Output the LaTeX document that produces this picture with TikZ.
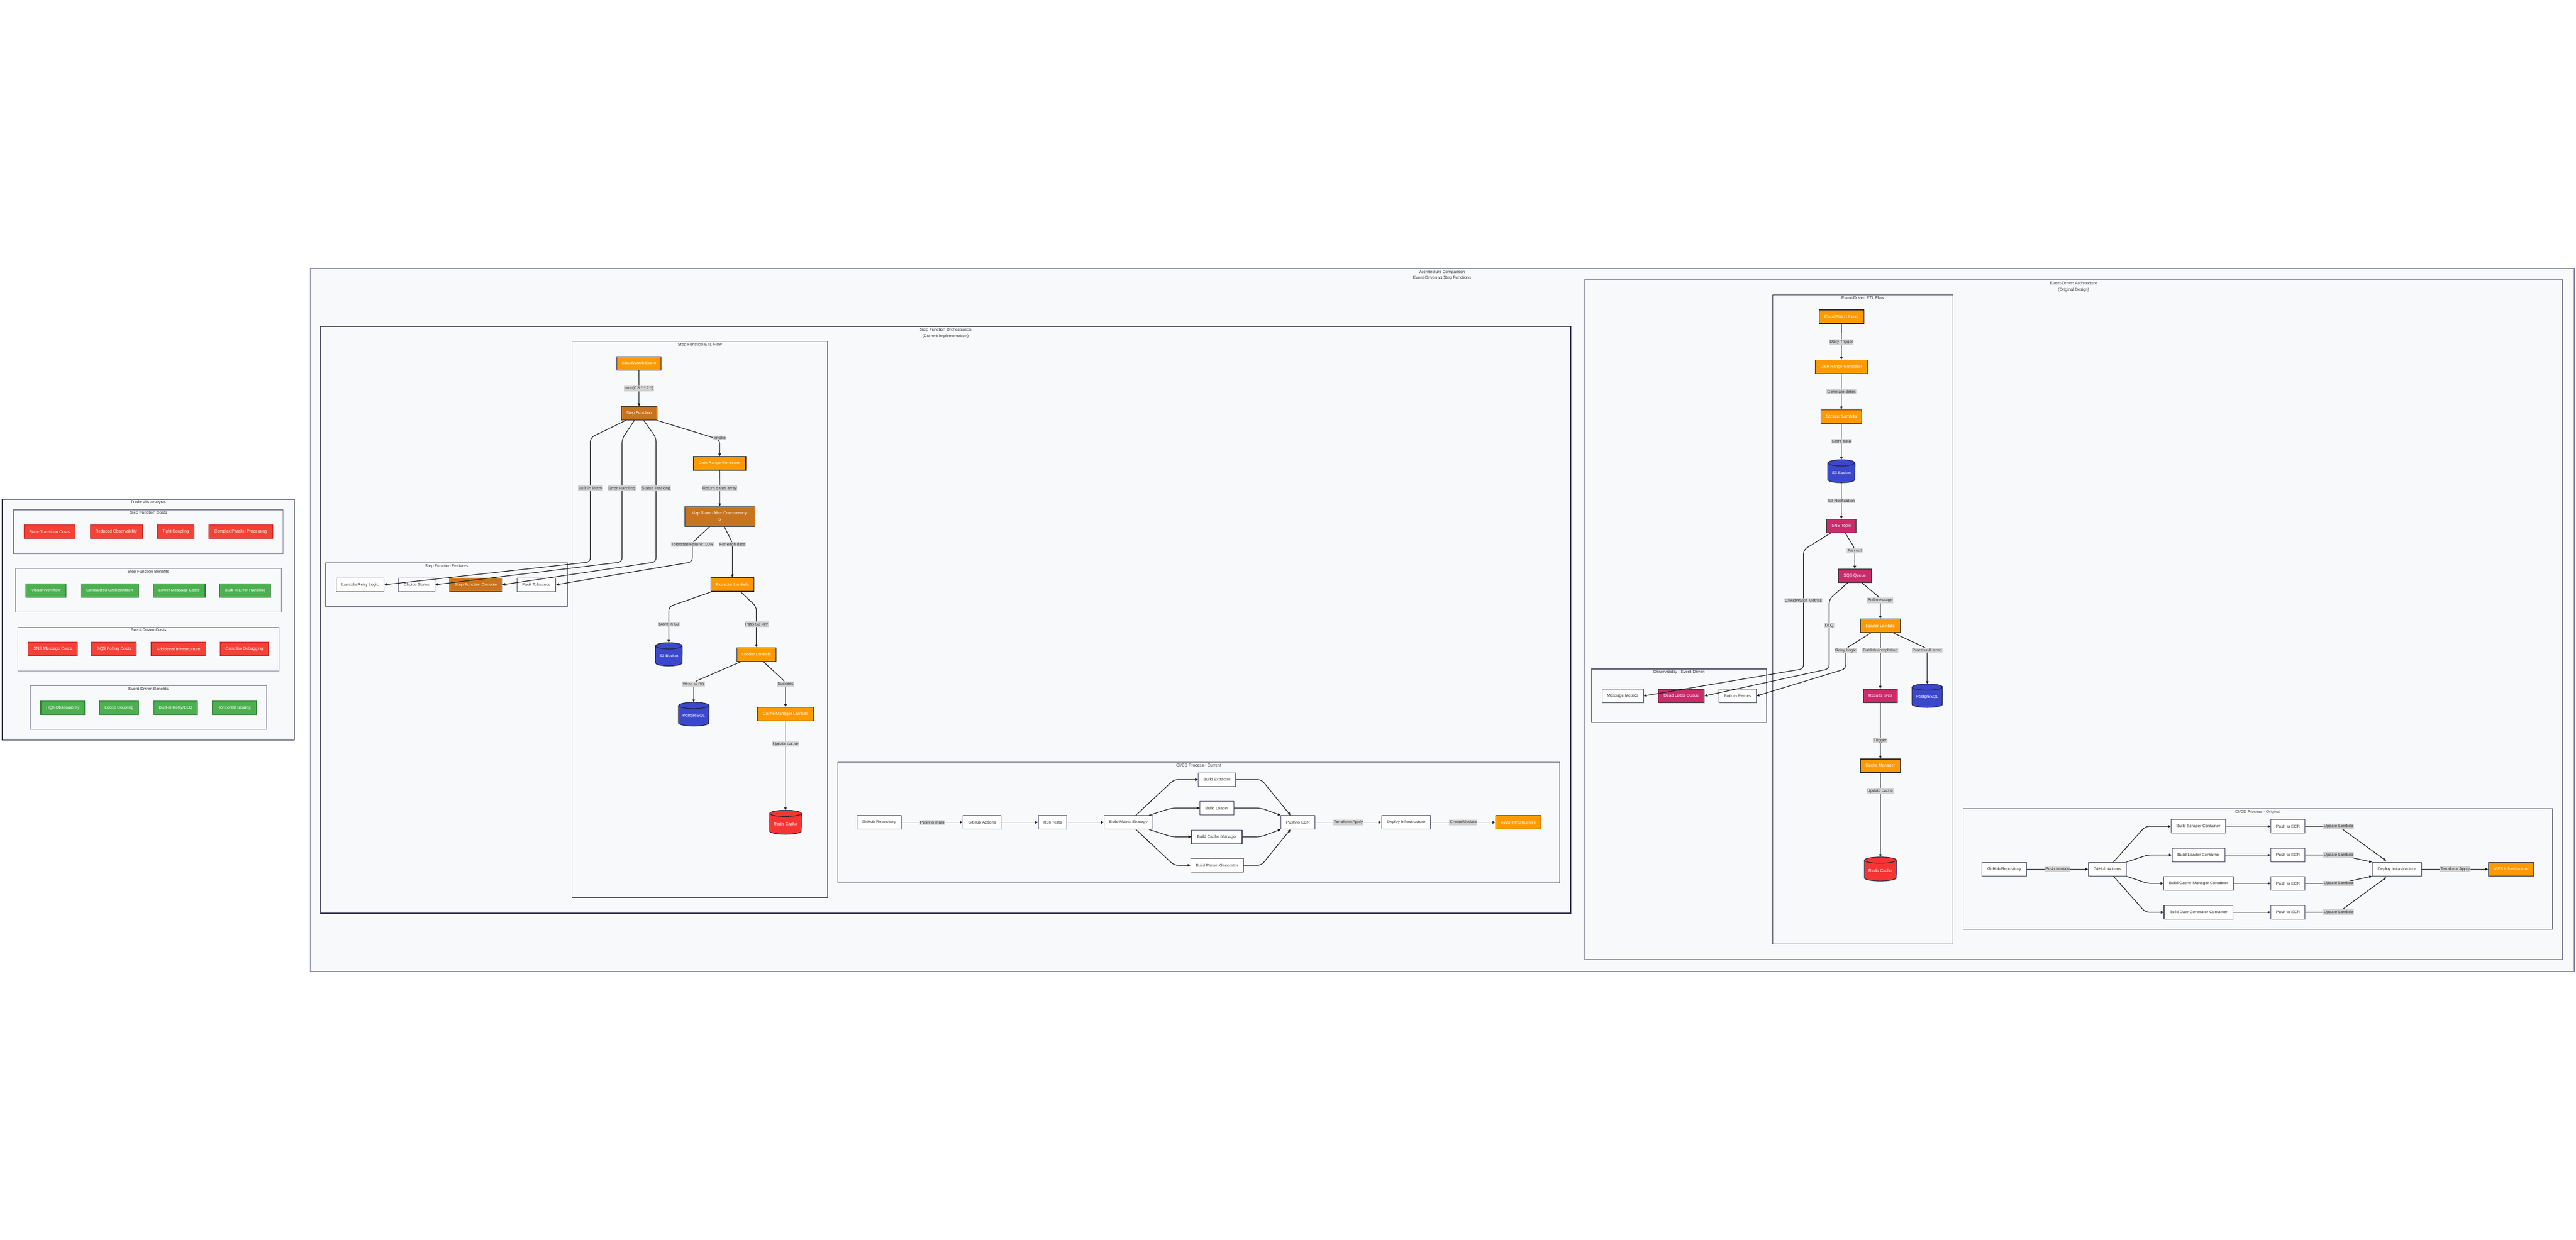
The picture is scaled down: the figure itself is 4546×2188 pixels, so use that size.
\documentclass[tikz,border=0pt]{standalone}
\usepackage{fontspec}
\setmainfont{Liberation Sans}
\usetikzlibrary{arrows.meta,calc,shadows}
\definecolor{awsorange}{HTML}{FF9900}
\definecolor{sfbrown}{HTML}{C8741E}
\definecolor{snsmag}{HTML}{CC2A6A}
\definecolor{s3blue}{HTML}{3B48CC}
\definecolor{redisred}{HTML}{F53434}
\definecolor{costred}{HTML}{F44336}
\definecolor{costline}{HTML}{C62828}
\definecolor{benegreen}{HTML}{4CAF50}
\definecolor{beneline}{HTML}{2E7D32}
\definecolor{darkline}{HTML}{333333}
\definecolor{cylline}{HTML}{22223A}
\definecolor{wline}{HTML}{55556A}
\definecolor{txtc}{HTML}{333333}
\definecolor{lblgray}{HTML}{D2D2D2}
\definecolor{edgec}{HTML}{1E1E1E}
\definecolor{grpfill}{HTML}{F8F9FB}
\definecolor{darkgrp}{HTML}{35354D}
\definecolor{midgrp}{HTML}{5E5E70}
\definecolor{lightgrp}{HTML}{85859A}
\newcommand\dfont{\fontsize{7.3pt}{8.8pt}\selectfont}
\tikzset{
 grp/.style={fill=grpfill, line width=1.3pt},
 ttl/.style={font=\dfont, text=txtc, inner sep=0pt},
 nd/.style={rectangle, line width=1.1pt, inner sep=0pt, font=\dfont, minimum height=24pt, drop shadow={opacity=0.18, shadow xshift=1.3pt, shadow yshift=-1.3pt}},
 wbox/.style={nd, fill=white, draw=wline, text=txtc},
 obox/.style={nd, fill=awsorange, draw=darkline, text=white},
 bbox/.style={nd, fill=sfbrown, draw=darkline, text=white},
 mbox/.style={nd, fill=snsmag, draw=darkline, text=white},
 rbox/.style={nd, fill=costred, draw=costline, text=white},
 gbox/.style={nd, fill=benegreen, draw=beneline, text=white},
 cylname/.style={rectangle, inner sep=0pt},
 cylbody/.style={draw=cylline, line width=1.1pt},
 cylshadow/.style={fill=black, opacity=0.15},
 cyltext/.style={text=white, font=\dfont, inner sep=0pt},
 lbl/.style={fill=lblgray, text=txtc, font=\dfont, inner xsep=1.2pt, inner ysep=1.5pt},
 edge/.style={draw=edgec, line width=1.15pt, rounded corners=7pt, -{Triangle[length=5pt,width=4.6pt]}}
}
\begin{document}
\begin{tikzpicture}[x=1pt,y=-1pt]
\fill[white] (0,0) rectangle (4546,2188);
\useasboundingbox (0,0) rectangle (4546,2188);

% ---------------- Trade-offs Analysis ----------------
\draw[grp, draw=darkgrp] (3.9,881.7) rectangle (519.5,1306.7);
\node[ttl] at (261.7,886.5) {Trade-offs Analysis};
\draw[grp, draw=lightgrp] (24.1,900) rectangle (499.6,977.3);
\node[ttl] at (261.9,905.5) {Step Function Costs};
\node[rbox, minimum width=90.3pt] (stc) at (87.6,938.7) {State Transition Costs};
\node[rbox, minimum width=91.9pt] (ro) at (205,938.7) {Reduced Observability};
\node[rbox, minimum width=65.4pt] (tc) at (310.1,938.7) {Tight Coupling};
\node[rbox, minimum width=112.8pt] (cpp) at (424.9,938.7) {Complex Parallel Processing};
\draw[grp, draw=lightgrp] (27.2,1003.7) rectangle (496.5,1080.7);
\node[ttl] at (261.9,1009.3) {Step Function Benefits};
\node[gbox, minimum width=70.4pt] (vw) at (81.1,1042.2) {Visual Workflow};
\node[gbox, minimum width=102pt] (co) at (193.4,1042.2) {Centralized Orchestration};
\node[gbox, minimum width=91.5pt] (lmc) at (316.2,1042.2) {Lower Message Costs};
\node[gbox, minimum width=90.3pt] (beh) at (432.7,1042.2) {Built-in Error Handling};
\draw[grp, draw=lightgrp] (31.5,1107.3) rectangle (492.6,1184.3);
\node[ttl] at (262,1112.3) {Event-Driven Costs};
\node[rbox, minimum width=86.4pt] (smc) at (93,1145.5) {SNS Message Costs};
\node[rbox, minimum width=78.6pt] (sqpc) at (201.2,1145.5) {SQS Polling Costs};
\node[rbox, minimum width=96.1pt] (ai) at (315,1145.5) {Additional Infrastructure};
\node[rbox, minimum width=85.2pt] (cd) at (431.3,1145.5) {Complex Debugging};
\draw[grp, draw=lightgrp] (53.3,1210.7) rectangle (470.8,1287.7);
\node[ttl] at (262,1216.3) {Event-Driven Benefits};
\node[gbox, minimum width=77.8pt] (ho) at (110.9,1249.5) {High Observability};
\node[gbox, minimum width=68.8pt] (lc) at (210.3,1249.5) {Loose Coupling};
\node[gbox, minimum width=77.4pt] (brd) at (309.9,1249.5) {Built-in Retry/DLQ};
\node[gbox, minimum width=77.8pt] (hs) at (413.2,1249.5) {Horizontal Scaling};

% ---------------- Architecture Comparison ----------------
\draw[grp, draw=lightgrp] (547.5,474.5) rectangle (4543,1715);
\node[ttl] at (2545,480.3) {Architecture Comparison};
\node[ttl] at (2545,491) {Event-Driven vs Step Functions};

\draw[grp, draw=darkgrp] (565.4,576.3) rectangle (2772,1612);
\node[ttl] at (1668.7,582.7) {Step Function Orchestration};
\node[ttl] at (1668.7,593.3) {(Current Implementation)};

\draw[grp, draw=darkgrp] (1009.3,602.7) rectangle (1460.7,1584.8);
\node[ttl] at (1235,608.3) {Step Function ETL Flow};

\draw[grp, draw=midgrp] (575,993.3) rectangle (1001,1070);
\node[ttl] at (788,999.3) {Step Function Features};

\draw[grp, draw=midgrp] (1478.4,1345.3) rectangle (2752.6,1558.3);
\node[ttl] at (2115.5,1351.3) {CI/CD Process - Current};

\draw[grp, draw=lightgrp] (2797,493.7) rectangle (4522,1693.5);
\node[ttl] at (3659.5,499.7) {Event-Driven Architecture};
\node[ttl] at (3659.5,511.3) {(Original Design)};

\draw[grp, draw=darkgrp] (3128.3,520.7) rectangle (3446.3,1666.7);
\node[ttl] at (3287.3,526) {Event-Driven ETL Flow};

\draw[grp, draw=midgrp] (2808.3,1181) rectangle (3117.7,1275.7);
\node[ttl] at (2963,1186.3) {Observability - Event-Driven};

\draw[grp, draw=midgrp] (3464.3,1427.7) rectangle (4504.4,1640.7);
\node[ttl] at (3984.4,1433.3) {CI/CD Process - Original};

% ---------------- SF ETL nodes ----------------
\node[obox, minimum width=78.4pt] (cw1) at (1127.5,641.3) {CloudWatch Event};
\node[bbox, minimum width=63.3pt] (sf1) at (1127.7,729.7) {Step Function};
\node[obox, minimum width=92pt] (drg1) at (1270,818) {Date Range Generator};
\node[bbox, minimum width=123.7pt, minimum height=35.3pt, align=center, font=\fontsize{7.3pt}{10.7pt}\selectfont] (map1) at (1270.2,911.7) {Map State - Max Concurrency:\\5};
\node[obox, minimum width=75.6pt] (ext1) at (1292.5,1032) {Extractor Lambda};
\node[obox, minimum width=69pt] (ldr1) at (1334.8,1155.2) {Loader Lambda};
\node[obox, minimum width=99pt] (cm1) at (1386.2,1260.5) {Cache Manager Lambda};

% cylinders (SF)
\node[cylname, minimum width=47pt, minimum height=40.6pt] (s3a) at (1180.2,1155) {};
\path[cylshadow] ($(s3a.north west)+(1.3,6.8)$) -- ($(s3a.south west)+(1.3,-4.2)$) arc[start angle=180,end angle=360,x radius=23.5pt,y radius=5.5pt] -- ($(s3a.north east)+(1.3,6.8)$) arc[start angle=0,end angle=180,x radius=23.5pt,y radius=5.5pt] -- cycle;
\path[cylbody, fill=s3blue] ($(s3a.north west)+(0,5.5)$) -- ($(s3a.south west)+(0,-5.5)$) arc[start angle=180,end angle=360,x radius=23.5pt,y radius=5.5pt] -- ($(s3a.north east)+(0,5.5)$) arc[start angle=0,end angle=180,x radius=23.5pt,y radius=5.5pt] -- cycle;
\draw[cylbody] ($(s3a.north west)+(0,5.5)$) arc[start angle=180,end angle=360,x radius=23.5pt,y radius=5.5pt];
\node[cyltext] at ($(s3a.center)+(0,3)$) {S3 Bucket};

\node[cylname, minimum width=53.7pt, minimum height=41.3pt] (pg1) at (1224.2,1260.7) {};
\path[cylshadow] ($(pg1.north west)+(1.3,6.8)$) -- ($(pg1.south west)+(1.3,-4.2)$) arc[start angle=180,end angle=360,x radius=26.85pt,y radius=5.5pt] -- ($(pg1.north east)+(1.3,6.8)$) arc[start angle=0,end angle=180,x radius=26.85pt,y radius=5.5pt] -- cycle;
\path[cylbody, fill=s3blue] ($(pg1.north west)+(0,5.5)$) -- ($(pg1.south west)+(0,-5.5)$) arc[start angle=180,end angle=360,x radius=26.85pt,y radius=5.5pt] -- ($(pg1.north east)+(0,5.5)$) arc[start angle=0,end angle=180,x radius=26.85pt,y radius=5.5pt] -- cycle;
\draw[cylbody] ($(pg1.north west)+(0,5.5)$) arc[start angle=180,end angle=360,x radius=26.85pt,y radius=5.5pt];
\node[cyltext] at ($(pg1.center)+(0,3)$) {PostgreSQL};

\node[cylname, minimum width=55.7pt, minimum height=42pt] (redis1) at (1386.2,1451.5) {};
\path[cylshadow] ($(redis1.north west)+(1.3,6.8)$) -- ($(redis1.south west)+(1.3,-4.2)$) arc[start angle=180,end angle=360,x radius=27.85pt,y radius=5.5pt] -- ($(redis1.north east)+(1.3,6.8)$) arc[start angle=0,end angle=180,x radius=27.85pt,y radius=5.5pt] -- cycle;
\path[cylbody, fill=redisred] ($(redis1.north west)+(0,5.5)$) -- ($(redis1.south west)+(0,-5.5)$) arc[start angle=180,end angle=360,x radius=27.85pt,y radius=5.5pt] -- ($(redis1.north east)+(0,5.5)$) arc[start angle=0,end angle=180,x radius=27.85pt,y radius=5.5pt] -- cycle;
\draw[cylbody] ($(redis1.north west)+(0,5.5)$) arc[start angle=180,end angle=360,x radius=27.85pt,y radius=5.5pt];
\node[cyltext] at ($(redis1.center)+(0,3)$) {Redis Cache};

% Features
\node[wbox, minimum width=84.4pt] (lrl) at (635.5,1032.2) {Lambda Retry Logic};
\node[wbox, minimum width=64pt] (cs) at (735.3,1032.2) {Choice States};
\node[bbox, minimum width=92.3pt] (sfc) at (839.9,1032.2) {Step Function Console};
\node[wbox, minimum width=68.4pt] (ft) at (946.5,1032.2) {Fault Tolerance};

% CI/CD current
\node[wbox, minimum width=78.3pt] (ghr1) at (1551.3,1451.7) {GitHub Repository};
\node[wbox, minimum width=67.3pt] (gha1) at (1733,1451.7) {GitHub Actions};
\node[wbox, minimum width=50.1pt] (rt) at (1857.5,1451.7) {Run Tests};
\node[wbox, minimum width=85.5pt] (bms) at (1991.3,1451.7) {Build Matrix Strategy};
\node[wbox, minimum width=66pt] (bext) at (2147.7,1376.2) {Build Extractor};
\node[wbox, minimum width=59.4pt] (bld) at (2147.5,1426.5) {Build Loader};
\node[wbox, minimum width=89pt] (bcm) at (2147.5,1477.2) {Build Cache Manager};
\node[wbox, minimum width=92.8pt] (bpg) at (2147.7,1527.5) {Build Param Generator};
\node[wbox, minimum width=60.2pt] (ecr1) at (2290.6,1451.7) {Push to ECR};
\node[wbox, minimum width=86.8pt] (dep1) at (2481.6,1451.7) {Deploy Infrastructure};
\node[obox, minimum width=80.2pt] (aws1) at (2679.6,1451.7) {AWS Infrastructure};

% ---------------- ED ETL nodes ----------------
\node[obox, minimum width=78.7pt] (cw2) at (3249.7,559) {CloudWatch Event};
\node[obox, minimum width=92.4pt] (drg2) at (3249.5,647.3) {Date Range Generator};
\node[obox, minimum width=72.4pt] (scr) at (3249.5,735.2) {Scraper Lambda};
\node[mbox, minimum width=52.4pt] (sns) at (3249.5,928.2) {SNS Topic};
\node[mbox, minimum width=57.7pt] (sqs) at (3273.2,1016.2) {SQS Queue};
\node[obox, minimum width=69.7pt] (ldr2) at (3318.2,1104.7) {Loader Lambda};
\node[mbox, minimum width=59.7pt] (rsns) at (3318.2,1228.2) {Results SNS};
\node[obox, minimum width=70.7pt] (cm2) at (3318.3,1352) {Cache Manager};

\node[cylname, minimum width=47.6pt, minimum height=40pt] (s3b) at (3249.5,831.8) {};
\path[cylshadow] ($(s3b.north west)+(1.3,6.8)$) -- ($(s3b.south west)+(1.3,-4.2)$) arc[start angle=180,end angle=360,x radius=23.8pt,y radius=5.5pt] -- ($(s3b.north east)+(1.3,6.8)$) arc[start angle=0,end angle=180,x radius=23.8pt,y radius=5.5pt] -- cycle;
\path[cylbody, fill=s3blue] ($(s3b.north west)+(0,5.5)$) -- ($(s3b.south west)+(0,-5.5)$) arc[start angle=180,end angle=360,x radius=23.8pt,y radius=5.5pt] -- ($(s3b.north east)+(0,5.5)$) arc[start angle=0,end angle=180,x radius=23.8pt,y radius=5.5pt] -- cycle;
\draw[cylbody] ($(s3b.north west)+(0,5.5)$) arc[start angle=180,end angle=360,x radius=23.8pt,y radius=5.5pt];
\node[cyltext] at ($(s3b.center)+(0,3)$) {S3 Bucket};

\node[cylname, minimum width=53.4pt, minimum height=41pt] (pg2) at (3401,1228) {};
\path[cylshadow] ($(pg2.north west)+(1.3,6.8)$) -- ($(pg2.south west)+(1.3,-4.2)$) arc[start angle=180,end angle=360,x radius=26.7pt,y radius=5.5pt] -- ($(pg2.north east)+(1.3,6.8)$) arc[start angle=0,end angle=180,x radius=26.7pt,y radius=5.5pt] -- cycle;
\path[cylbody, fill=s3blue] ($(pg2.north west)+(0,5.5)$) -- ($(pg2.south west)+(0,-5.5)$) arc[start angle=180,end angle=360,x radius=26.7pt,y radius=5.5pt] -- ($(pg2.north east)+(0,5.5)$) arc[start angle=0,end angle=180,x radius=26.7pt,y radius=5.5pt] -- cycle;
\draw[cylbody] ($(pg2.north west)+(0,5.5)$) arc[start angle=180,end angle=360,x radius=26.7pt,y radius=5.5pt];
\node[cyltext] at ($(pg2.center)+(0,3)$) {PostgreSQL};

\node[cylname, minimum width=56pt, minimum height=41.8pt] (redis2) at (3318.3,1534) {};
\path[cylshadow] ($(redis2.north west)+(1.3,6.8)$) -- ($(redis2.south west)+(1.3,-4.2)$) arc[start angle=180,end angle=360,x radius=28pt,y radius=5.5pt] -- ($(redis2.north east)+(1.3,6.8)$) arc[start angle=0,end angle=180,x radius=28pt,y radius=5.5pt] -- cycle;
\path[cylbody, fill=redisred] ($(redis2.north west)+(0,5.5)$) -- ($(redis2.south west)+(0,-5.5)$) arc[start angle=180,end angle=360,x radius=28pt,y radius=5.5pt] -- ($(redis2.north east)+(0,5.5)$) arc[start angle=0,end angle=180,x radius=28pt,y radius=5.5pt] -- cycle;
\draw[cylbody] ($(redis2.north west)+(0,5.5)$) arc[start angle=180,end angle=360,x radius=28pt,y radius=5.5pt];
\node[cyltext] at ($(redis2.center)+(0,3)$) {Redis Cache};

% Observability
\node[wbox, minimum width=73.3pt, minimum height=23.6pt] (mm) at (2863.7,1228.5) {Message Metrics};
\node[mbox, minimum width=81pt, minimum height=23.6pt] (dlq) at (2967.2,1228.5) {Dead Letter Queue};
\node[wbox, minimum width=65.6pt, minimum height=23.6pt] (bir) at (3066.5,1228.5) {Built-in Retries};

% CI/CD original
\node[wbox, minimum width=78.2pt] (ghr2) at (3537,1534.3) {GitHub Repository};
\node[wbox, minimum width=66.4pt] (gha2) at (3718.9,1534.3) {GitHub Actions};
\node[wbox, minimum width=96.5pt] (bsc) at (3879.7,1458.7) {Build Scraper Container};
\node[wbox, minimum width=93.6pt] (blc) at (3880,1509.3) {Build Loader Container};
\node[wbox, minimum width=123.2pt] (bcmc) at (3879.8,1559.5) {Build Cache Manager Container};
\node[wbox, minimum width=121.5pt] (bdgc) at (3879.7,1610.3) {Build Date Generator Container};
\node[wbox, minimum width=60.3pt] (ecrA) at (4037.7,1458.7) {Push to ECR};
\node[wbox, minimum width=60.3pt] (ecrB) at (4037.7,1509.3) {Push to ECR};
\node[wbox, minimum width=60.3pt] (ecrC) at (4037.7,1559.5) {Push to ECR};
\node[wbox, minimum width=60.3pt] (ecrD) at (4037.7,1610.3) {Push to ECR};
\node[wbox, minimum width=86.8pt] (dep2) at (4230,1534.3) {Deploy Infrastructure};
\node[obox, minimum width=79.9pt] (aws2) at (4431.5,1534.3) {AWS Infrastructure};

% ---------------- SF ETL edges ----------------
\draw[edge] (cw1) -- (sf1);
\node[lbl] at (1127.7,685.7) {cron(0 8 * * ? *)};
\draw[edge] (sf1.south east) -- (1270,776) -- (drg1.north);
\node[lbl] at (1270,773.3) {Invoke};
\draw[edge] (drg1) -- (map1);
\node[lbl] at (1270,862.3) {Return dates array};
\draw[edge] ($(map1.south)+(8,0)$) -- (1292.5,958) -- (ext1.north);
\node[lbl] at (1292.3,961) {For each date};
\draw[edge] ($(map1.south)+(-18,0)$) -- (1221.7,958) -- (1221.7,992) -- (ft.east);
\node[lbl] at (1221.7,961) {Tolerated Failure: 10\%};
\draw[edge] ($(sf1.south)+(-23.7,0)$) -- (1041.7,772.7) -- (1041.7,992) -- (lrl.east);
\node[lbl] at (1041.7,862.3) {Built-in Retry};
\draw[edge] ($(sf1.south)+(-8.4,0)$) -- (1097.7,775) -- (1097.7,992) -- (cs.east);
\node[lbl] at (1097.3,862.3) {Error Handling};
\draw[edge] ($(sf1.south)+(8.3,0)$) -- (1157.7,772.7) -- (1157.7,992) -- (sfc.east);
\node[lbl] at (1157.7,862.3) {Status Tracking};
\draw[edge] ($(ext1.south west)+(2,0)$) -- (1180.2,1071) -- (s3a.north);
\node[lbl] at (1180.3,1102.2) {Store in S3};
\draw[edge] ($(ext1.south)+(14.2,0)$) -- (1334.8,1071) -- (ldr1.north);
\node[lbl] at (1335,1102.2) {Pass S3 key};
\draw[edge] ($(ldr1.south)+(-26.5,0)$) -- (1224.2,1204) -- (pg1.north);
\node[lbl] at (1224,1207.4) {Write to DB};
\draw[edge] ($(ldr1.south)+(12,0)$) -- (1386.2,1204) -- (cm1.north);
\node[lbl] at (1386.3,1207.4) {Success};
\draw[edge] (cm1) -- (redis1.north);
\node[lbl] at (1386.3,1313.4) {Update cache};

% CI/CD current edges
\draw[edge] (ghr1) -- (gha1);
\node[lbl] at (1645,1451.7) {Push to main};
\draw[edge] (gha1) -- (rt);
\draw[edge] (rt) -- (bms);
\draw[edge] ($(bms.north)+(13.2,0)$) -- (2072,1376.2) -- (bext.west);
\draw[edge] ($(bms.north)+(36.4,0)$) -- (2068,1426.5) -- (bld.west);
\draw[edge] ($(bms.south)+(36.4,0)$) -- (2068,1477.2) -- (bcm.west);
\draw[edge] ($(bms.south)+(13.2,0)$) -- (2072,1527.5) -- (bpg.west);
\draw[edge] (bext.east) -- (2226,1376.2) -- ($(ecr1.north west)+(17.3,0)$);
\draw[edge] (bld.east) -- (2225,1426.5) -- (ecr1.north west);
\draw[edge] (bcm.east) -- (2225,1477.2) -- (ecr1.south west);
\draw[edge] (bpg.east) -- (2226,1527.5) -- ($(ecr1.south west)+(17.3,0)$);
\draw[edge] (ecr1) -- (dep1);
\node[lbl] at (2379.5,1451.7) {Terraform Apply};
\draw[edge] (dep1) -- (aws1);
\node[lbl] at (2582.3,1451.7) {Create/Update};

% ---------------- ED ETL edges ----------------
\draw[edge] (cw2) -- (drg2);
\node[lbl] at (3249.7,603.6) {Daily Trigger};
\draw[edge] (drg2) -- (scr);
\node[lbl] at (3249.7,691.4) {Generate dates};
\draw[edge] (scr) -- (s3b.north);
\node[lbl] at (3249.7,779.3) {Store data};
\draw[edge] (s3b.south) -- (sns);
\node[lbl] at (3249.7,884.3) {S3 Notification};
\draw[edge] ($(sns.south)+(6.7,0)$) -- (3273.2,968) -- (sqs.north);
\node[lbl] at (3273,972.5) {Fan out};
\draw[edge] ($(sns.south)+(-18.5,0)$) -- (3182.7,970.7) -- (3182.7,1180.6) -- (mm.east);
\node[lbl] at (3182.7,1060) {CloudWatch Metrics};
\draw[edge] ($(sqs.south)+(-12.5,0)$) -- (3228,1058) -- (3228,1180.6) -- (dlq.east);
\node[lbl] at (3228,1104.2) {DLQ};
\draw[edge] ($(sqs.south)+(12.5,0)$) -- (3318.2,1056) -- (ldr2.north);
\node[lbl] at (3318,1060) {Pull message};
\draw[edge] ($(ldr2.south)+(-16.5,0)$) -- (3257.3,1145) -- (3257.3,1180.6) -- (bir.east);
\node[lbl] at (3257.3,1148.4) {Retry Logic};
\draw[edge] (ldr2) -- (rsns);
\node[lbl] at (3318,1148.4) {Publish completion};
\draw[edge] ($(ldr2.south)+(22.8,0)$) -- (3401,1145) -- (pg2.north);
\node[lbl] at (3400.7,1148.4) {Process \& store};
\draw[edge] (rsns) -- (cm2);
\node[lbl] at (3318,1307.5) {Trigger};
\draw[edge] (cm2) -- (redis2.north);
\node[lbl] at (3318,1396.3) {Update cache};

% CI/CD original edges
\draw[edge] (ghr2) -- (gha2);
\node[lbl] at (3630.9,1534.3) {Push to main};
\draw[edge] ($(gha2.north)+(10.7,0)$) -- (3786,1458.7) -- (bsc.west);
\draw[edge] (gha2.north east) -- (3790,1509.3) -- (blc.west);
\draw[edge] (gha2.south east) -- (3790,1559.5) -- (bcmc.west);
\draw[edge] ($(gha2.south)+(10.7,0)$) -- (3786,1610.3) -- (bdgc.west);
\draw[edge] (bsc) -- (ecrA);
\draw[edge] (blc) -- (ecrB);
\draw[edge] (bcmc) -- (ecrC);
\draw[edge] (bdgc) -- (ecrD);
\draw[edge] (ecrA.east) -- (4127,1458.7) -- ($(dep2.north west)+(25,-2)$);
\node[lbl] at (4127,1458.7) {Update Lambda};
\draw[edge] (ecrB.east) -- (4127,1509.3) -- (dep2.north west);
\node[lbl] at (4127,1509.3) {Update Lambda};
\draw[edge] (ecrC.east) -- (4127,1559.5) -- (dep2.south west);
\node[lbl] at (4127,1559.5) {Update Lambda};
\draw[edge] (ecrD.east) -- (4127,1610.3) -- ($(dep2.south west)+(25,2)$);
\node[lbl] at (4127,1610.3) {Update Lambda};
\draw[edge] (dep2) -- (aws2);
\node[lbl] at (4332.5,1534.3) {Terraform Apply};
\end{tikzpicture}
\end{document}
